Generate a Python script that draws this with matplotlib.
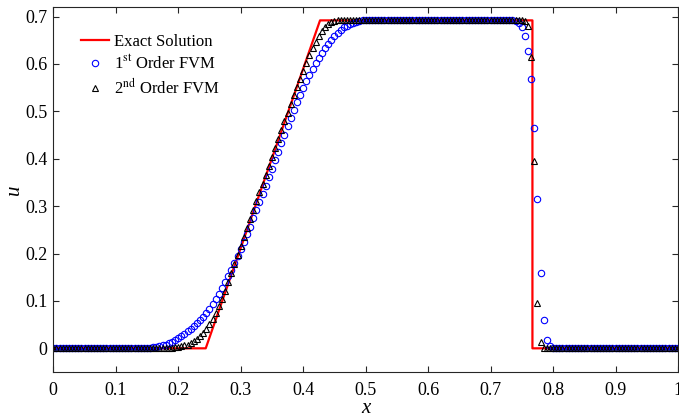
import numpy as np
import matplotlib
matplotlib.use("Agg")
import matplotlib.pyplot as plt

plt.rcParams['font.family'] = ['Liberation Serif', 'DejaVu Serif']
plt.rcParams['mathtext.fontset'] = 'stix'

# exact solution (rarefaction + shock)
x_exact = [0.0, 0.244, 0.427, 0.767, 0.767, 1.0]
u_exact = [0.0, 0.0, 0.692, 0.692, 0.0, 0.0]

# grid nodes, spacing 0.005
x_grid = np.linspace(0, 1, 201)

# 1st order FVM values
u_first = ([0.0] * 31 +
           [0.001, 0.002, 0.003, 0.004, 0.006, 0.008, 0.011, 0.014, 0.018,
            0.022, 0.026, 0.031, 0.036, 0.041, 0.047, 0.053, 0.060, 0.067,
            0.075, 0.084, 0.094, 0.104, 0.115, 0.127, 0.139, 0.152, 0.165,
            0.179, 0.194, 0.209, 0.225, 0.241, 0.257, 0.274, 0.291, 0.308,
            0.325, 0.343, 0.361, 0.379, 0.397, 0.415, 0.433, 0.451, 0.469,
            0.486, 0.503, 0.519, 0.535, 0.550, 0.564, 0.577, 0.590, 0.602,
            0.613, 0.624, 0.634, 0.643, 0.651, 0.659, 0.666, 0.672, 0.677,
            0.681, 0.684, 0.686, 0.688, 0.690] +
           [0.692] * 49 +
           [0.690, 0.686, 0.677, 0.659, 0.628, 0.568, 0.465, 0.316, 0.159,
            0.059, 0.017, 0.004, 0.001] +
           [0.0] * 40)

# 2nd order FVM values
u_second = ([0.0] * 38 +
            [0.001, 0.002, 0.003, 0.004, 0.006, 0.008, 0.011, 0.015, 0.020,
             0.026, 0.033, 0.041, 0.051, 0.062, 0.075, 0.089, 0.105, 0.122,
             0.140, 0.158, 0.177, 0.196, 0.215, 0.234, 0.253, 0.272, 0.291,
             0.310, 0.329, 0.347, 0.366, 0.385, 0.404, 0.423, 0.442, 0.460,
             0.479, 0.497, 0.516, 0.534, 0.552, 0.569, 0.586, 0.602, 0.618,
             0.633, 0.647, 0.660, 0.670, 0.679, 0.685, 0.689, 0.691] +
            [0.692] * 60 +
            [0.691, 0.681, 0.614, 0.396, 0.095, 0.013, 0.001] +
            [0.0] * 43)

fig = plt.figure(figsize=(6.79, 4.18), dpi=100)
ax = fig.add_axes([0.0785, 0.110, 0.9200, 0.873])

ax.plot(x_exact, u_exact, color='red', lw=1.6, label='Exact Solution')
ax.plot(x_grid, u_first, 'o', ms=4.6, mfc='none', mec='blue', mew=0.8,
        label=r'1$^{\mathrm{st}}$ Order FVM')
ax.plot(x_grid, u_second, '^', ms=4.6, mfc='none', mec='black', mew=0.8,
        label=r'2$^{\mathrm{nd}}$ Order FVM')

ax.set_xlim(0, 1)
ax.set_ylim(-0.05, 0.72)
ax.set_xticks(np.arange(0, 1.01, 0.1))
ax.set_xticklabels(['0', '0.1', '0.2', '0.3', '0.4', '0.5', '0.6', '0.7', '0.8', '0.9', '1'])
ax.set_yticks(np.arange(0, 0.71, 0.1))
ax.set_yticklabels(['0', '0.1', '0.2', '0.3', '0.4', '0.5', '0.6', '0.7'])
ax.tick_params(direction='in', top=True, right=True, length=4.5, width=0.8,
               labelsize=13, colors='#262626', labelcolor='black')
ax.tick_params(axis='x', pad=7)
ax.tick_params(axis='y', pad=4)
for s in ax.spines.values():
    s.set_color('#262626')
    s.set_linewidth(0.8)

ax.set_xlabel('x', fontsize=15, style='italic', labelpad=0)
ax.set_ylabel('u', fontsize=15, style='italic', labelpad=1)

ax.legend(loc='upper left', frameon=False, fontsize=12, handlelength=1.7,
          handletextpad=0.3, labelspacing=0.3, borderaxespad=0,
          bbox_to_anchor=(0.033, 0.944))

fig.savefig('out.png', dpi=100)
